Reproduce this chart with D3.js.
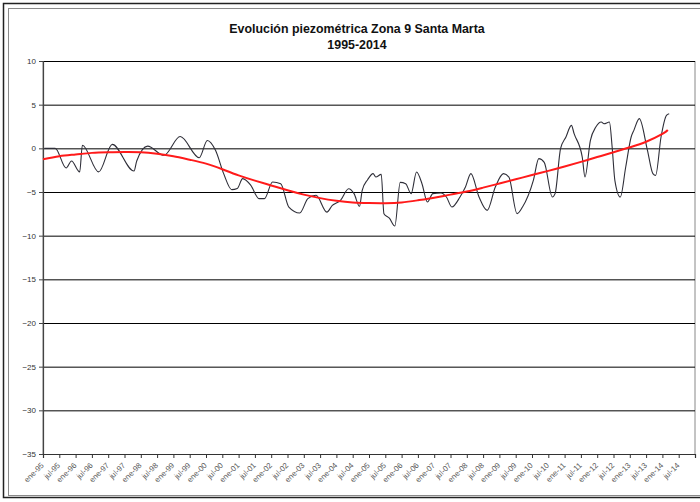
<!DOCTYPE html>
<html>
<head>
<meta charset="utf-8">
<script src="https://cdn.jsdelivr.net/npm/d3@7/dist/d3.min.js"></script>
<style>
  html, body { margin: 0; padding: 0; background: #fff; }
  svg { display: block; font-family: "Liberation Sans", Arial, sans-serif; }
</style>
</head>
<body>
<svg id="chart" width="700" height="502"></svg>
<script>
// Piezometric level (m), month index counted from ene-95
const obsMonths = [0, 4, 8, 10, 13, 14, 20, 25, 33, 34, 38, 44, 50, 57, 60, 63, 66, 69, 71, 73, 76, 79, 81, 84, 87, 90, 94, 97, 100, 104, 106, 109, 112, 114, 116, 117, 119, 121, 122, 124, 125, 127, 129, 131, 133, 135, 137, 139, 141, 143, 146, 148, 150, 153, 155, 157, 160, 163, 166, 169, 171, 174, 176, 180, 182, 184, 187, 188, 190, 192, 194, 195, 198, 199, 201, 203, 205, 206, 208, 209, 210, 212, 214, 216, 217, 219, 222, 224, 225, 227, 229, 230];
const obsLevels = [0, 0, -2.25, -1.45, -2.7, 0.35, -2.7, 0.45, -2.6, -1.45, 0.25, -0.8, 1.35, -1.07, 0.9, -0.23, -2.9, -4.73, -4.6, -3.47, -4.24, -5.76, -5.76, -3.86, -4.05, -6.72, -7.4, -5.76, -5.38, -7.3, -6.53, -5.95, -4.62, -5.19, -6.64, -4.81, -3.59, -2.9, -3.29, -2.98, -7.48, -8.0, -8.9, -3.9, -4.05, -5.19, -2.71, -4.05, -6.15, -5.19, -5.11, -5.57, -6.72, -5.57, -4.43, -2.9, -5.57, -7.1, -4.43, -2.9, -3.29, -7.48, -6.72, -3.66, -1.18, -1.6, -5.57, -5.19, -0.04, 1.3, 2.63, 1.68, -1.0, -3.29, 0.92, 2.44, 3.01, 2.82, 3.01, 0.15, -3.66, -5.57, -2.14, 1.3, 2.06, 3.4, -0.23, -2.9, -3.1, 1.3, 3.78, 3.97];

// Polynomial trend of the series
const trendMonths = [0, 6, 12, 18, 24, 30, 36, 42, 48, 54, 60, 66, 72, 78, 84, 90, 96, 102, 108, 114, 120, 126, 132, 138, 144, 150, 156, 162, 168, 174, 180, 186, 192, 198, 204, 210, 216, 222, 228, 230];
const trendLevels = [-1.25, -0.9, -0.7, -0.52, -0.45, -0.42, -0.45, -0.62, -0.9, -1.3, -1.75, -2.4, -3.1, -3.7, -4.25, -4.8, -5.3, -5.7, -6.0, -6.2, -6.27, -6.28, -6.2, -5.95, -5.65, -5.3, -4.95, -4.5, -4.03, -3.55, -3.05, -2.58, -2.08, -1.55, -1.0, -0.45, 0.12, 0.75, 1.65, 2.1];

const yTicks = [10, 5, 0, -5, -10, -15, -20, -25, -30, -35];
const xTickLabels = ["ene-95", "jul-95", "ene-96", "jul-96", "ene-97", "jul-97", "ene-98", "jul-98", "ene-99", "jul-99",
  "ene-00", "jul-00", "ene-01", "jul-01", "ene-02", "jul-02", "ene-03", "jul-03", "ene-04", "jul-04",
  "ene-05", "jul-05", "ene-06", "jul-06", "ene-07", "jul-07", "ene-08", "jul-08", "ene-09", "jul-09",
  "ene-10", "jul-10", "ene-11", "jul-11", "ene-12", "jul-12", "ene-13", "jul-13", "ene-14", "jul-14"];

const svg = d3.select("#chart");
const plotLeft = 43, plotRight = 695, plotTop = 61, plotBottom = 454;

// Outer frame
svg.append("rect").attr("x", 3.5).attr("y", 3.5).attr("width", 700).attr("height", 494)
  .attr("fill", "none").attr("stroke", "#222").attr("stroke-width", 1.5);
svg.append("rect").attr("x", 8.5).attr("y", 8.5).attr("width", 700).attr("height", 487)
  .attr("fill", "none").attr("stroke", "#8a8a8a").attr("stroke-width", 1);

// Title
svg.append("text").attr("x", 357).attr("y", 33).attr("text-anchor", "middle")
  .attr("font-size", 12.4).attr("font-weight", "bold").attr("fill", "#111")
  .text("Evolución piezométrica Zona 9 Santa Marta");
svg.append("text").attr("x", 357).attr("y", 49).attr("text-anchor", "middle")
  .attr("font-size", 12.4).attr("font-weight", "bold").attr("fill", "#111")
  .text("1995-2014");

const x = d3.scaleLinear().domain([0, 240]).range([plotLeft, plotRight]);
const y = d3.scaleLinear().domain([-35, 10]).range([plotBottom, plotTop]);

// Plot area border
svg.append("rect").attr("x", plotLeft).attr("y", plotTop + 0.5).attr("width", plotRight - plotLeft).attr("height", plotBottom - plotTop)
  .attr("fill", "none").attr("stroke", "#888").attr("stroke-width", 1);

// Horizontal gridlines
svg.append("g").attr("transform", `translate(${plotLeft},0)`)
  .call(d3.axisLeft(y).tickValues(yTicks.filter(v => v > -35)).tickSize(-(plotRight - plotLeft)).tickFormat(""))
  .call(g => g.select(".domain").remove())
  .call(g => g.selectAll("line").attr("stroke", "#000").attr("stroke-width", 1));

// Y axis
svg.append("g").attr("transform", `translate(${plotLeft},0)`)
  .call(d3.axisLeft(y).tickValues(yTicks).tickSize(4).tickPadding(3))
  .call(g => g.select(".domain").attr("stroke", "#444").attr("stroke-width", 1.2))
  .call(g => g.selectAll("line").attr("stroke", "#444"))
  .call(g => g.selectAll("text").attr("font-size", 8).attr("fill", "#333").attr("font-family", "Liberation Sans, Arial, sans-serif"));

// X axis: a tick every six months
const xTickVals = d3.range(0, 241, 6);
const xAxis = svg.append("g").attr("transform", `translate(0,${plotBottom})`)
  .call(d3.axisBottom(x).tickValues(xTickVals).tickSize(4)
    .tickFormat((d, i) => xTickLabels[i] || ""))
  .call(g => g.select(".domain").attr("stroke", "#333").attr("stroke-width", 1.2))
  .call(g => g.selectAll("line").attr("stroke", "#333"));
xAxis.selectAll("text")
  .attr("font-size", 7.8).attr("fill", "#555").attr("font-family", "Liberation Sans, Arial, sans-serif")
  .attr("text-anchor", "end").attr("x", 0).attr("y", 0).attr("dy", "0.7em")
  .attr("transform", "translate(-3,8) rotate(-45)");

// Observed series
const obs = obsMonths.map((m, i) => [m, obsLevels[i]]);
svg.append("path").datum(obs)
  .attr("fill", "none").attr("stroke", "#2e2e38").attr("stroke-width", 1.1)
  .attr("stroke-linejoin", "round")
  .attr("d", d3.line().x(d => x(d[0] + 0.5)).y(d => y(d[1])).curve(d3.curveMonotoneX));

// Trend line
const trend = trendMonths.map((m, i) => [m, trendLevels[i]]);
svg.append("path").datum(trend)
  .attr("fill", "none").attr("stroke", "#ff1a1a").attr("stroke-width", 2)
  .attr("d", d3.line().x(d => x(d[0])).y(d => y(d[1])).curve(d3.curveNatural));
</script>
</body>
</html>
